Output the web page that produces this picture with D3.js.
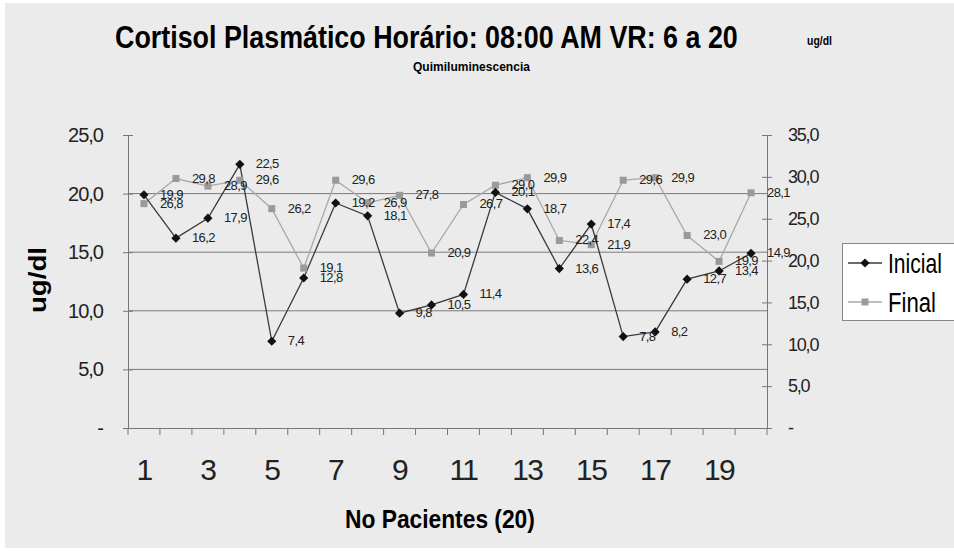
<!DOCTYPE html>
<html><head><meta charset="utf-8">
<script src="https://cdn.jsdelivr.net/npm/d3@7"></script>
<style>
html,body{margin:0;padding:0;background:#fff;}
svg{display:block;font-family:"Liberation Sans",Arial,sans-serif;}
</style></head>
<body>
<script>
const patients = [1,2,3,4,5,6,7,8,9,10,11,12,13,14,15,16,17,18,19,20];
const inicial = [19.9,16.2,17.9,22.5,7.4,12.8,19.2,18.1,9.8,10.5,11.4,20.1,18.7,13.6,17.4,7.8,8.2,12.7,13.4,14.9];
const finalV  = [26.8,29.8,28.9,29.6,26.2,19.1,29.6,26.9,27.8,20.9,26.7,29.0,29.9,22.4,21.9,29.6,29.9,23.0,19.9,28.1];
const leftTicks = [0,5,10,15,20,25];
const rightTicks = [0,5,10,15,20,25,30,35];
const xTickLabels = [1,3,5,7,9,11,13,15,17,19];
const seriesNames = ["Inicial","Final"];

const W=954,H=551;
const fmt = v => v===0 ? "-" : d3.format(".1f")(v).replace(".", ",");

const svg = d3.select("body").append("svg").attr("width",W).attr("height",H);
svg.append("rect").attr("x",5).attr("y",3).attr("width",W-5).attr("height",H-6).attr("fill","#ebebeb");

const x = d3.scaleBand().domain(patients).range([128,767]);
const yL = d3.scaleLinear().domain([0,25]).range([428,135]);
const yR = d3.scaleLinear().domain([0,35]).range([428,135]);
const cx = d => x(d)+x.bandwidth()/2;

// gridlines
svg.append("g").selectAll("line").data([5,10,15,20]).join("line")
  .attr("x1",128).attr("x2",767).attr("y1",d=>yL(d)).attr("y2",d=>yL(d))
  .attr("stroke","#7a7a7a").attr("stroke-width",1);

// left axis
const gL = svg.append("g").attr("transform","translate(128,0)")
  .call(d3.axisLeft(yL).tickValues(leftTicks).tickFormat(fmt).tickSize(5).tickPadding(20));
gL.select(".domain").attr("stroke","#777");
gL.selectAll(".tick line").attr("stroke","#777").attr("x2",5).attr("x1",-5);
gL.selectAll("text").attr("font-size",20).attr("fill","#222").attr("letter-spacing",-1);

// right axis
const gR = svg.append("g").attr("transform","translate(767,0)")
  .call(d3.axisRight(yR).tickValues(rightTicks).tickFormat(fmt).tickSize(5).tickPadding(16));
gR.select(".domain").attr("stroke","#777");
gR.selectAll(".tick line").attr("stroke","#777").attr("x1",-5).attr("x2",5);
gR.selectAll("text").attr("font-size",18).attr("fill","#222").attr("letter-spacing",-1.2);

// bottom axis
const gB = svg.append("g").attr("transform","translate(0,428)")
  .call(d3.axisBottom(x).tickFormat(d=> xTickLabels.includes(d)? d : "").tickSize(0).tickPadding(31));
gB.select(".domain").attr("stroke","#777");
gB.selectAll("text").attr("font-size",30).attr("fill","#222").attr("letter-spacing",-1.5);
const bounds = patients.map(d=>x(d)).concat([x(20)+x.bandwidth()]);
svg.append("g").selectAll("line").data(bounds).join("line")
  .attr("x1",d=>d).attr("x2",d=>d).attr("y1",428).attr("y2",435).attr("stroke","#777");

// lines
const lineL = d3.line().x((d,i)=>cx(patients[i])).y(d=>yL(d));
const lineR = d3.line().x((d,i)=>cx(patients[i])).y(d=>yR(d));
svg.append("path").attr("d",lineR(finalV)).attr("fill","none").attr("stroke","#a8a8a8").attr("stroke-width",1.3);
svg.append("path").attr("d",lineL(inicial)).attr("fill","none").attr("stroke","#3a3a3a").attr("stroke-width",1.3);

// markers
svg.append("g").selectAll("rect").data(finalV).join("rect")
  .attr("x",(d,i)=>cx(patients[i])-3.5).attr("y",d=>yR(d)-3.5).attr("width",7).attr("height",7).attr("fill","#9a9a9a");
const diamond = "M0,-4.6L4.6,0L0,4.6L-4.6,0Z";
svg.append("g").selectAll("path").data(inicial).join("path")
  .attr("d",diamond).attr("transform",(d,i)=>`translate(${cx(patients[i])},${yL(d)})`).attr("fill","#111");

// data labels
svg.append("g").selectAll("text").data(finalV).join("text")
  .attr("x",(d,i)=>cx(patients[i])+16).attr("y",d=>yR(d)+4)
  .attr("font-size",13).attr("letter-spacing",-0.6).attr("fill","#222").text(fmt);
svg.append("g").selectAll("text").data(inicial).join("text")
  .attr("x",(d,i)=>cx(patients[i])+16).attr("y",d=>yL(d)+4)
  .attr("font-size",13).attr("letter-spacing",-0.6).attr("fill","#222").text(fmt);

// condensed text: horizontally scaled to a target width
function fitText(parent, tx, ty, rot, str, size, weight, len){
  const g = parent.append("g").attr("transform",`translate(${tx},${ty}) rotate(${rot})`);
  const inner = g.append("g");
  const t = inner.append("text").attr("font-size",size).attr("font-weight",weight).attr("fill","#000").text(str);
  const w = t.node().getComputedTextLength();
  inner.attr("transform",`scale(${len/w},1)`);
  return t;
}
fitText(svg,115,48,0,"Cortisol Plasmático Horário: 08:00 AM VR: 6 a 20",32,"bold",623);
fitText(svg,807,45,0,"ug/dl",12,"bold",25);
fitText(svg,413,71,0,"Quimiluminescencia",13,"bold",117);
fitText(svg,345,528,0,"No Pacientes (20)",25,"bold",190);
fitText(svg,46,313,-90,"ug/dl",24,"bold",66);

// legend
const lg = svg.append("g");
lg.append("rect").attr("x",842.5).attr("y",243.5).attr("width",120).attr("height",77).attr("fill","#fff").attr("stroke","#888");
const rows = [{n:seriesNames[0],y:263,c:"#3a3a3a",len:54},{n:seriesNames[1],y:302,c:"#a8a8a8",len:48}];
rows.forEach((r,i)=>{
  lg.append("line").attr("x1",848).attr("x2",882).attr("y1",r.y).attr("y2",r.y).attr("stroke",r.c).attr("stroke-width",1.3);
  if(i===0) lg.append("path").attr("d",diamond).attr("transform",`translate(865,${r.y})`).attr("fill","#111");
  else lg.append("rect").attr("x",861.5).attr("y",r.y-3.5).attr("width",7).attr("height",7).attr("fill","#9a9a9a");
  fitText(lg,888,r.y+10,0,r.n,27,"normal",r.len);
});
</script>
</body></html>
